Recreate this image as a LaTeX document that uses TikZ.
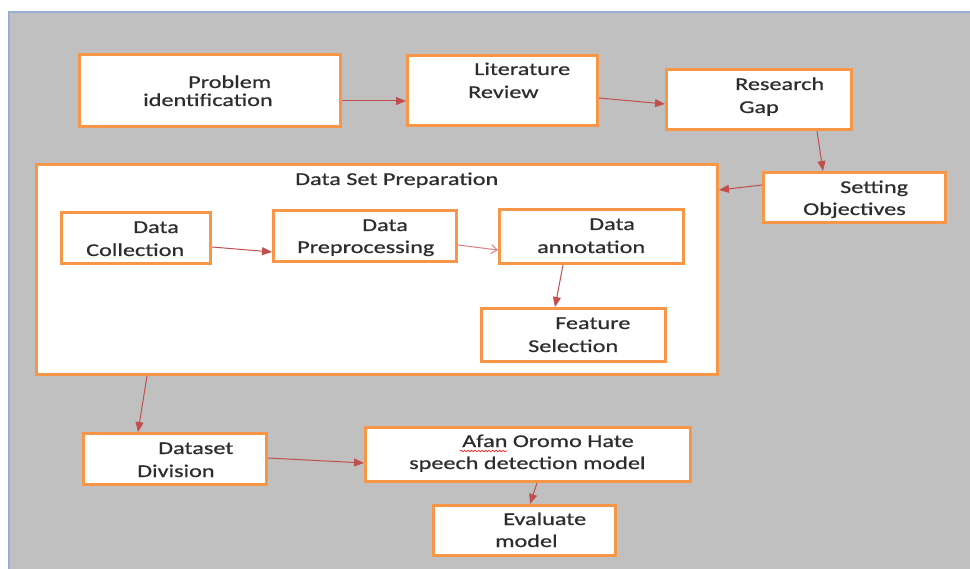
\documentclass[tikz,border=0pt]{standalone}
\usepackage{fontspec}
\setmainfont{Carlito}[FakeStretch=1.345,FakeBold=0.6]
\usetikzlibrary{arrows.meta,fit,decorations.pathmorphing}
\definecolor{bggray}{RGB}{192,192,192}
\definecolor{edgeblue}{RGB}{150,175,215}
\definecolor{boxorange}{RGB}{247,150,70}
\definecolor{arrred}{RGB}{192,80,77}
\definecolor{arrlight}{RGB}{215,130,130}
\definecolor{txtgray}{RGB}{45,45,45}
\tikzset{
  box/.style={draw=boxorange, line width=3pt, fill=white, inner sep=0pt},
  txt/.style={font=\fontsize{18}{19}\selectfont, text=txtgray, inner sep=0pt, anchor=base west},
  conn/.style={draw=arrred, line width=1pt, -{Triangle[length=10pt,width=8pt]}},
  connopen/.style={draw=arrlight, line width=1pt, -{Straight Barb[length=6pt,width=9pt]}}
}
\begin{document}
\begin{tikzpicture}[x=1pt,y=-1pt]
\useasboundingbox (0,0) rectangle (970,569);
\fill[white] (0,0) rectangle (970,569);
\fill[bggray] (9,12) rectangle (970,569);
\draw[edgeblue, line width=1.5pt] (9,569) -- (9,12) -- (970,12);

% boxes
\node[box, fit={(79.5,54.5) (340.5,126.5)}] (prob) {};
\node[box, fit={(407.5,55.5) (597.5,125.5)}] (lit) {};
\node[box, fit={(666.5,69.5) (851.5,129.5)}] (rg) {};
\node[box, fit={(763.5,172.5) (945.5,222.5)}] (so) {};
\node[box, fit={(36.5,164.5) (717.5,374.5)}] (dsp) {};
\node[box, fit={(61.5,212.5) (210.5,263.5)}] (dc) {};
\node[box, fit={(273.5,210.5) (456.5,261.5)}] (dp) {};
\node[box, fit={(499.5,209.5) (683.5,263.5)}] (da) {};
\node[box, fit={(481.5,308.5) (665.5,361.5)}] (fs) {};
\node[box, fit={(83.5,433.5) (266.5,484.5)}] (dd) {};
\node[box, fit={(365.5,427.5) (690.5,481.5)}] (afan) {};
\node[box, fit={(433.5,505.5) (615.5,555.5)}] (eval) {};

% texts
\node[txt] (t1a) at (188,88) {Problem};
\node[txt] (t1b) at (143,106) {identification};
\node[txt] (t2a) at (474,75) {Literature};
\node[txt] (t2b) at (468,98) {Review};
\node[txt] (t3a) at (735,90) {Research};
\node[txt] (t3b) at (739,113) {Gap};
\node[txt] (t4a) at (840,193) {Setting};
\node[txt] (t4b) at (803,215) {Objectives};
\node[txt] (t5) at (295,185) {Data Set Preparation};
\node[txt] (t6a) at (133,233) {Data};
\node[txt] (t6b) at (86,256) {Collection};
\node[txt] (t7a) at (362,231) {Data};
\node[txt] (t7b) at (297,253) {Preprocessing};
\node[txt] (t8a) at (589,230) {Data};
\node[txt] (t8b) at (537,253) {annotation};
\node[txt] (t9a) at (555,329) {Feature};
\node[txt] (t9b) at (528,352) {Selection};
\node[txt] (t10a) at (158,454) {Dataset};
\node[txt] (t10b) at (137,477) {Division};
\node[txt] (t11a) at (462,447) {Afan Oromo Hate};
\node[txt] (t11b) at (409,469) {speech detection model};
\node[txt] (t12a) at (503,525) {Evaluate};
\node[txt] (t12b) at (495,547) {model};
\draw[red, line width=0.6pt, decorate, decoration={snake, amplitude=0.8pt, segment length=3.5pt}] (t11a.base west) ++(-2,4) -- ++(47,0);

% connectors
\draw[conn] (prob.east |- 0,101) -- (lit.west |- 0,101);
\draw[conn] (lit.east |- 0,98) -- (rg.west |- 0,104);
\draw[conn] (rg.south -| 817,0) -- (so.north -| 823,0);
\draw[conn] (so.west |- 0,185) -- (dsp.east |- 0,190);
\draw[conn] (dc.east |- 0,247) -- (dp.west |- 0,252);
\draw[connopen] (dp.east |- 0,245) -- (da.west |- 0,250);
\draw[conn] (da.south -| 563,0) -- (fs.north -| 555,0);
\draw[conn] (dsp.south -| 147,0) -- (dd.north -| 138,0);
\draw[conn] (dd.east |- 0,458) -- (afan.west |- 0,463);
\draw[conn] (afan.south -| 537,0) -- (eval.north -| 530,0);
\end{tikzpicture}
\end{document}
